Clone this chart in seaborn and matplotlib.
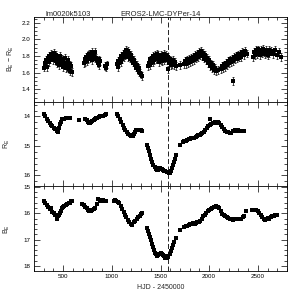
import numpy as np
import pandas as pd
import matplotlib
matplotlib.use("Agg")
import matplotlib.pyplot as plt
import seaborn as sns
from matplotlib.ticker import MultipleLocator

# ---------------- data ----------------
t_color = [302, 310, 318, 326, 334, 342, 350, 358, 366, 374, 382, 390, 398, 406, 414, 422, 430, 438,
           446, 454, 462, 470, 478, 486, 494, 502, 510, 518, 526, 534, 542, 550, 558, 566, 574, 582, 590,
           712, 720, 728, 736, 744, 752, 760, 768, 776, 784, 792, 800, 808, 816, 824, 832, 840, 848, 856,
           864, 872, 880, 930, 938, 946,
           1051, 1059, 1067, 1075, 1083, 1091, 1099, 1107, 1115, 1123, 1131, 1139, 1147, 1155, 1163, 1171,
           1179, 1187, 1195, 1203, 1211, 1219, 1227, 1235, 1243, 1251, 1259, 1267, 1275, 1283, 1291, 1299, 1307,
           1372, 1380, 1388, 1396, 1404, 1412, 1420, 1428, 1436, 1444, 1452, 1460, 1468, 1476, 1484, 1492,
           1500, 1508, 1516, 1524, 1532, 1540, 1548, 1556, 1564, 1572, 1580, 1588, 1596, 1604, 1612, 1620,
           1630, 1640, 1650, 1660,
           1698,
           1745, 1755, 1765, 1775, 1785, 1795, 1805, 1815, 1825, 1835, 1845, 1855, 1865, 1875, 1885, 1895,
           1905, 1915, 1925, 1935, 1945, 1955, 1965, 1975, 1985, 1995, 2005, 2015, 2025, 2035, 2045, 2060,
           2075, 2090,
           2125, 2135, 2145, 2155, 2165, 2175, 2185, 2195, 2205, 2215, 2225, 2235, 2243, 2250, 2260, 2270,
           2280, 2290, 2300, 2310, 2320, 2330, 2340, 2355, 2370, 2385,
           2450, 2460, 2470, 2480, 2490, 2500, 2510, 2520, 2530, 2540, 2550, 2560, 2570, 2580, 2590, 2600,
           2610, 2620, 2640, 2660, 2680, 2700, 2720, 2735]
color = [1.66, 1.72, 1.70, 1.75, 1.67, 1.78, 1.73, 1.80, 1.76, 1.83, 1.78, 1.81, 1.75, 1.84, 1.79, 1.74, 1.81, 1.71,
         1.77, 1.69, 1.75, 1.80, 1.72, 1.77, 1.67, 1.74, 1.69, 1.78, 1.65, 1.72, 1.67, 1.75, 1.64, 1.70, 1.62, 1.68, 1.61,
         1.71, 1.77, 1.73, 1.79, 1.74, 1.81, 1.76, 1.83, 1.77, 1.81, 1.75, 1.85, 1.79, 1.83, 1.77, 1.85, 1.78, 1.75, 1.71,
         1.76, 1.69, 1.74, 1.68, 1.66, 1.70,
         1.70, 1.67, 1.74, 1.71, 1.77, 1.73, 1.80, 1.76, 1.83, 1.79, 1.85, 1.81, 1.87, 1.82, 1.86, 1.79,
         1.84, 1.77, 1.81, 1.75, 1.78, 1.72, 1.75, 1.69, 1.72, 1.66, 1.69, 1.63, 1.66, 1.61, 1.60, 1.58, 1.56,
         1.68, 1.72, 1.69, 1.76, 1.72, 1.78, 1.73, 1.80, 1.75, 1.81, 1.76, 1.83, 1.77, 1.81, 1.73, 1.79,
         1.75, 1.81, 1.74, 1.80, 1.75, 1.83, 1.77, 1.81, 1.75, 1.64, 1.79, 1.71, 1.76, 1.69, 1.74, 1.70,
         1.75, 1.69, 1.73, 1.68,
         1.69,
         1.70, 1.74, 1.70, 1.76, 1.71, 1.77, 1.73, 1.78, 1.74, 1.79, 1.75, 1.81, 1.77, 1.83, 1.79, 1.85,
         1.81, 1.86, 1.80, 1.84, 1.77, 1.81, 1.75, 1.78, 1.71, 1.75, 1.68, 1.71, 1.65, 1.69, 1.63, 1.66,
         1.62, 1.63,
         1.64, 1.68, 1.65, 1.70, 1.67, 1.72, 1.69, 1.74, 1.71, 1.76, 1.73, 1.77, 1.50, 1.74, 1.79, 1.76,
         1.80, 1.77, 1.82, 1.78, 1.83, 1.79, 1.85, 1.81, 1.86, 1.83,
         1.79, 1.85, 1.81, 1.87, 1.82, 1.88, 1.84, 1.81, 1.87, 1.83, 1.89, 1.84, 1.82, 1.87, 1.83, 1.81,
         1.87, 1.83, 1.86, 1.82, 1.87, 1.81, 1.85, 1.79]
color_err = 0.045

t_r = [302, 315, 330, 345, 360, 375, 390, 405, 420, 435, 450, 460, 470, 480, 490, 500, 512, 525, 540, 555, 565,
       660,
       728, 740, 752, 765, 779, 790, 800, 812, 825, 838, 850, 865, 880, 895, 910, 925, 935,
       1051, 1065, 1080, 1095, 1110, 1125, 1140, 1155, 1170, 1185, 1200, 1215, 1228, 1240, 1252, 1265, 1280,
       1295, 1307,
       1358, 1370, 1380, 1392, 1405, 1415, 1426, 1440, 1450, 1460, 1472, 1485, 1498, 1511, 1525, 1538, 1550,
       1562, 1575, 1586, 1596, 1606, 1615, 1625, 1635, 1645, 1657,
       1698,
       1732, 1745, 1760, 1775, 1790, 1805, 1817, 1830, 1845, 1860, 1875, 1890, 1902, 1915, 1930, 1945, 1960,
       1975, 1990, 2004, 2011, 2020, 2035, 2050, 2065, 2080, 2095, 2106, 2120, 2135, 2150, 2165, 2180, 2195,
       2210, 2225, 2240, 2255, 2270, 2285, 2300, 2315, 2330, 2345, 2362]
r_mag = [13.93, 14.00, 14.08, 14.15, 14.22, 14.28, 14.33, 14.38, 14.43, 14.48, 14.52, 14.40, 14.25, 14.18, 14.10,
         14.08, 14.10, 14.05, 14.06, 14.04, 14.06,
         14.13,
         14.10, 14.12, 14.18, 14.22, 14.24, 14.20, 14.17, 14.13, 14.10, 14.07, 14.04, 14.02, 14.00, 13.98, 13.97,
         13.95, 13.93,
         13.93, 14.00, 14.10, 14.20, 14.30, 14.38, 14.45, 14.52, 14.58, 14.64, 14.68, 14.65, 14.58, 14.52, 14.45,
         14.47, 14.46, 14.45, 14.48,
         14.96, 15.08, 15.18, 15.32, 15.45, 15.55, 15.64, 15.72, 15.78, 15.82, 15.80, 15.76, 15.74, 15.78, 15.80,
         15.84, 15.86, 15.88, 15.90, 15.93, 15.92, 15.85, 15.76, 15.66, 15.55, 15.45, 15.30,
         14.96,
         14.86, 14.84, 14.82, 14.80, 14.78, 14.76, 14.74, 14.73, 14.72, 14.69, 14.67, 14.64, 14.62, 14.60, 14.56,
         14.52, 14.45, 14.38, 14.32, 14.28, 14.10, 14.25, 14.23, 14.22, 14.20, 14.21, 14.20, 14.22, 14.28, 14.35,
         14.42, 14.48, 14.52, 14.54, 14.55, 14.55, 14.50, 14.48, 14.47, 14.50, 14.46, 14.48, 14.50, 14.48, 14.50]

t_b = [302, 315, 330, 345, 360, 375, 390, 405, 420, 432, 440, 450, 460, 470, 480, 490, 500, 512, 525, 540, 555,
       570, 585, 595,
       694, 710, 725, 740, 755, 770, 785, 800, 815, 830, 845, 860, 875, 890, 905, 920, 935,
       1017, 1030, 1045, 1060, 1075, 1090, 1105, 1120, 1135, 1150, 1165, 1180, 1195, 1210, 1225, 1240, 1255,
       1270, 1285, 1300, 1312,
       1358, 1368, 1378, 1390, 1400, 1410, 1420, 1430, 1440, 1450, 1462, 1475, 1488, 1500, 1512, 1525, 1538,
       1550, 1562, 1572, 1582, 1595, 1607, 1618, 1630, 1642, 1655,
       1698,
       1745, 1760, 1775, 1790, 1805, 1820, 1835, 1850, 1865, 1880, 1895, 1910, 1925, 1940, 1955, 1970, 1985,
       2000, 2015, 2030, 2045, 2060, 2075, 2090, 2105, 2120, 2135, 2150, 2165, 2180, 2195, 2210, 2225, 2240,
       2255, 2270, 2285, 2300, 2315, 2330, 2345, 2360, 2379,
       2440, 2455, 2470, 2485, 2500, 2515, 2530, 2545, 2560, 2575, 2590, 2605, 2620, 2635, 2650, 2665, 2680, 2695]
b_mag = [15.55, 15.62, 15.70, 15.78, 15.85, 15.82, 15.95, 15.98, 16.08, 16.15, 16.20, 16.10, 16.05, 16.00, 15.90,
         15.82, 15.78, 15.72, 15.70, 15.65, 15.62, 15.60, 15.55, 15.52,
         15.65, 15.70, 15.75, 15.82, 15.88, 15.92, 15.93, 15.88, 15.85, 15.80, 15.65, 15.45, 15.50, 15.55, 15.50,
         15.52, 15.55,
         15.55, 15.50, 15.55, 15.56, 15.60, 15.72, 15.85, 15.95, 16.05, 16.15, 16.25, 16.35, 16.42, 16.45, 16.35,
         16.28, 16.22, 16.15, 16.10, 16.02, 16.00,
         16.57, 16.68, 16.78, 16.90, 17.02, 17.15, 17.28, 17.40, 17.50, 17.56, 17.62, 17.58, 17.55, 17.52, 17.55,
         17.60, 17.62, 17.68, 17.70, 17.65, 17.62, 17.55, 17.45, 17.32, 17.20, 17.08, 16.95,
         16.62,
         16.52, 16.50, 16.48, 16.45, 16.42, 16.40, 16.38, 16.40, 16.36, 16.34, 16.33, 16.30, 16.22, 16.12, 16.05,
         15.98, 15.92, 15.88, 15.84, 15.82, 15.78, 15.75, 15.74, 15.78, 15.82, 15.92, 16.02, 16.08, 16.12, 16.15,
         16.18, 16.20, 16.22, 16.25, 16.22, 16.20, 16.22, 16.20, 16.22, 16.20, 16.15, 16.10, 15.92,
         15.88, 15.88, 15.87, 15.88, 15.90, 15.98, 16.08, 16.15, 16.22, 16.25, 16.22, 16.18, 16.20, 16.15, 16.12,
         16.10, 16.08, 16.05]

event_time = 1575
field_name = "lm0020k5103"
star_name = "EROS2-LMC-DYPer-14"
x_label = "HJD - 2450000"
x_ticks = [500, 1000, 1500, 2000, 2500]

# ---------------- figure ----------------
sns.set_theme(style="ticks")
plt.rcParams["font.family"] = ["Liberation Sans", "DejaVu Sans"]
plt.rcParams["mathtext.fontset"] = "custom"
plt.rcParams["mathtext.rm"] = "Liberation Sans"
plt.rcParams["mathtext.it"] = "Liberation Sans:italic"

fig = plt.figure(figsize=(3.04, 3.04), dpi=100)
gs = fig.add_gridspec(3, 1, left=34 / 304, right=287 / 304, top=1 - 17 / 304, bottom=1 - 271 / 304, hspace=0)
axes = [fig.add_subplot(gs[i]) for i in range(3)]

df_c = pd.DataFrame({"t": t_color, "v": color})
df_r = pd.DataFrame({"t": t_r, "v": r_mag})
df_b = pd.DataFrame({"t": t_b, "v": b_mag})

ax0, ax1, ax2 = axes
ax0.errorbar(df_c["t"], df_c["v"], yerr=color_err, fmt="none", ecolor="black", elinewidth=0.5,
             capsize=0.8, capthick=0.5, zorder=2)
sns.scatterplot(data=df_c, x="t", y="v", ax=ax0, color="black", marker="s", s=6, linewidth=0, zorder=3)
sns.scatterplot(data=df_r, x="t", y="v", ax=ax1, color="black", marker="s", s=9, linewidth=0, zorder=3)
sns.scatterplot(data=df_b, x="t", y="v", ax=ax2, color="black", marker="s", s=9, linewidth=0, zorder=3)

ax0.set_ylim(1.25, 2.27)
ax1.set_ylim(16.37, 13.5)
ax2.set_ylim(18.19, 14.98)

ax0.yaxis.set_major_locator(MultipleLocator(0.2))
ax0.yaxis.set_minor_locator(MultipleLocator(0.05))
for ax in (ax1, ax2):
    ax.yaxis.set_major_locator(MultipleLocator(1))
    ax.yaxis.set_minor_locator(MultipleLocator(0.2))

for i, ax in enumerate(axes):
    ax.set_xlim(200, 2800)
    ax.set_xticks(x_ticks)
    ax.xaxis.set_minor_locator(MultipleLocator(100))
    ax.axvline(event_time, color="black", lw=0.6, ls=(0, (6, 3)), zorder=1)
    ax.tick_params(which="both", direction="in", top=True, right=True, width=0.5, colors="black",
                   labelsize=4.5, pad=2.5)
    ax.tick_params(which="major", length=4)
    ax.tick_params(which="minor", length=2)
    for sp in ax.spines.values():
        sp.set_linewidth(0.6)
        sp.set_color("black")
    ax.set_xlabel("")
    if i < 2:
        ax.tick_params(labelbottom=False)

ax0.set_ylabel(r"B$_\mathrm{E}$ $-$ R$_\mathrm{E}$", fontsize=5, labelpad=4)
ax1.set_ylabel(r"R$_\mathrm{E}$", fontsize=5, labelpad=8)
ax2.set_ylabel(r"B$_\mathrm{E}$", fontsize=5, labelpad=8)
ax2.set_xlabel(x_label, fontsize=5, labelpad=3)

fig.text(45 / 304, 1 - 14 / 304, field_name, fontsize=5.5, ha="left", va="center")
fig.text(161 / 304, 1 - 14 / 304, star_name, fontsize=5.5, ha="center", va="center")

fig.savefig("out.png", dpi=100)
